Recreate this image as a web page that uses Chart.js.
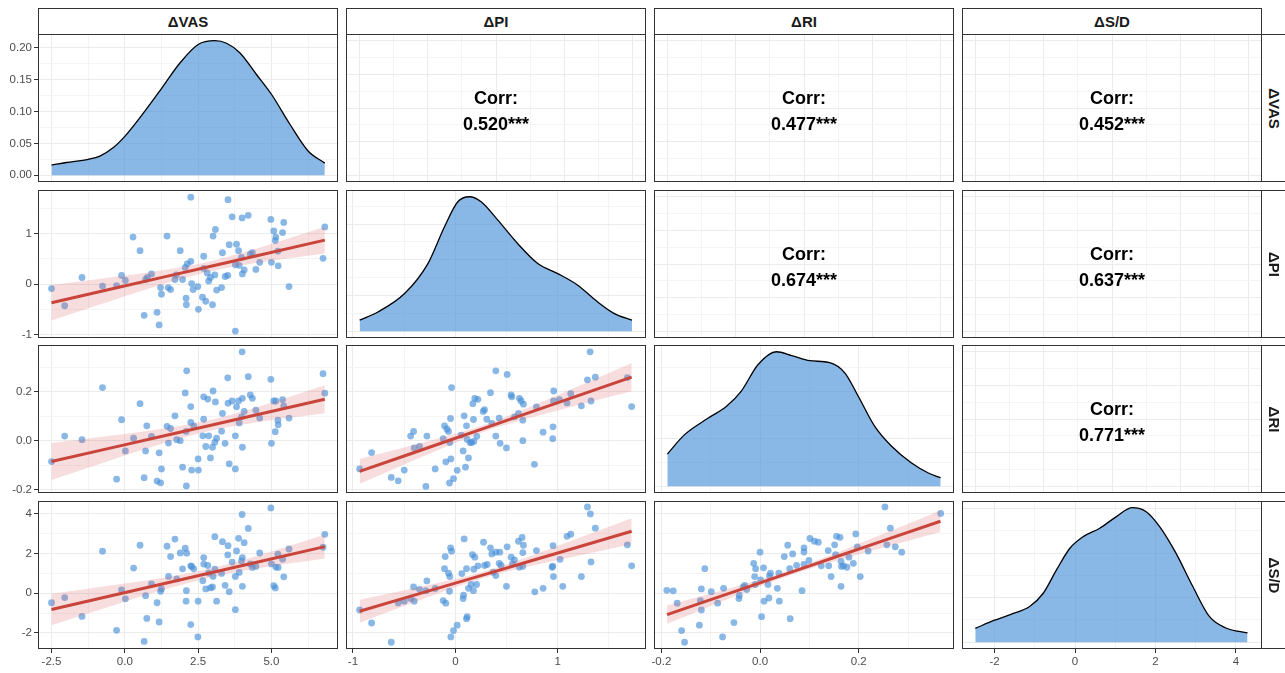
<!DOCTYPE html>
<html>
<head>
<meta charset="utf-8">
<script src="https://cdn.jsdelivr.net/npm/chart.js@4.4.1/dist/chart.umd.min.js"></script>
<style>
  body { margin: 0; background: #fff; width: 1285px; height: 673px; overflow: hidden; position: relative;
         font-family: "Liberation Sans", Arial, sans-serif; }
  canvas { position: absolute; }
  .strip { position: absolute; box-sizing: border-box; border: 1px solid #333; background: #fff;
           font-weight: bold; font-size: 15px; color: #1a1a1a;
           display: flex; align-items: center; justify-content: center; white-space: nowrap; }
  .strip.side span { transform: rotate(90deg); display: inline-block; }
  .corr { position: absolute; width: 300px; text-align: center; font-weight: bold; font-size: 18px;
          line-height: 26px; color: #000; }
</style>
</head>
<body>
<script>
// variables of the pairs plot
var varNames = ['ΔVAS', 'ΔPI', 'ΔRI', 'ΔS/D'];
var axisMin = [-2.96, -1.068, -0.215, -2.81];
var axisMax = [7.27, 1.862, 0.393, 4.65];
var majorTicks = [[-2.5, 0, 2.5, 5], [-1, 0, 1], [-0.2, 0, 0.2], [-2, 0, 2, 4]];
var majorLabels = [['-2.5', '0.0', '2.5', '5.0'], ['-1', '0', '1'], ['-0.2', '0.0', '0.2'], ['-2', '0', '2', '4']];
var minorTicks = [[-1.25, 1.25, 3.75, 6.25], [-0.5, 0.5, 1.5], [-0.1, 0.1, 0.3], [-1, 1, 3]];

// density panels (own y scale each)
var densMin = [-0.0106, -0.0377, -0.142, -0.0151];
var densMax = [0.2215, 0.7907, 2.982, 0.317];
var densMajor = [[0, 0.05, 0.1, 0.15, 0.2], [0, 0.2, 0.4, 0.6], [0, 1, 2], [0, 0.1, 0.2, 0.3]];
var densMinor = [[0.025, 0.075, 0.125, 0.175], [0.1, 0.3, 0.5, 0.7], [0.5, 1.5, 2.5], [0.05, 0.15, 0.25]];
var densLabels = ['0.00', '0.05', '0.10', '0.15', '0.20'];

var densVasX = [-2.5, -1.99, -1.25, -0.85, -0.4, 0, 0.51, 1.25, 1.88, 2.5, 3.07, 3.47, 3.92, 4.49, 5.0, 5.63, 6.25, 6.82];
var densVasY = [0.016, 0.020, 0.025, 0.030, 0.043, 0.061, 0.090, 0.136, 0.176, 0.205, 0.211, 0.207, 0.192, 0.158, 0.127, 0.080, 0.038, 0.019];
var densPiX = [-0.935, -0.756, -0.496, -0.268, -0.106, 0.024, 0.138, 0.252, 0.415, 0.61, 0.805, 1.0, 1.195, 1.39, 1.553, 1.725];
var densPiY = [0.062, 0.108, 0.211, 0.379, 0.585, 0.725, 0.753, 0.725, 0.622, 0.49, 0.379, 0.323, 0.258, 0.164, 0.099, 0.062];
var densRiX = [-0.188, -0.153, -0.105, -0.068, -0.038, -0.004, 0.033, 0.064, 0.101, 0.141, 0.172, 0.199, 0.232, 0.266, 0.307, 0.341, 0.366];
var densRiY = [0.68, 1.09, 1.44, 1.69, 2.01, 2.57, 2.84, 2.76, 2.65, 2.61, 2.39, 1.90, 1.27, 0.85, 0.49, 0.28, 0.18];
var densSdX = [-2.48, -2.02, -1.61, -1.12, -0.79, -0.457, -0.127, 0.203, 0.615, 1.03, 1.424, 1.77, 2.10, 2.51, 2.93, 3.34, 3.75, 4.29];
var densSdY = [0.031, 0.049, 0.062, 0.081, 0.110, 0.163, 0.211, 0.237, 0.256, 0.282, 0.302, 0.293, 0.260, 0.200, 0.125, 0.058, 0.032, 0.021];

// scatter points [x, y]
var ptsVasPi = [[-2.5,-0.09],[-2.05,-0.43],[-1.46,0.13],[-0.76,-0.04],[-0.28,-0.03],[-0.11,0.17],[0.02,0.07],[0.28,0.93],[0.52,0.66],[0.66,-0.62],[0.71,0.09],[0.77,0.13],[0.91,0.2],[1.1,-0.56],[1.17,-0.81],[1.22,-0.07],[1.25,-0.2],[1.44,0.95],[1.48,-0.07],[1.56,-0.11],[1.71,0.09],[1.76,0.18],[1.89,0.66],[1.97,0.09],[2.06,0.33],[2.09,-0.28],[2.1,-0.41],[2.13,0.4],[2.25,0.45],[2.25,1.72],[2.28,0.01],[2.33,-0.11],[2.49,-0.05],[2.51,-0.5],[2.65,-0.26],[2.69,0.55],[2.69,0.31],[2.76,-0.34],[2.81,0.22],[2.86,0.06],[2.92,0.13],[2.99,-0.41],[3.01,0.95],[3.07,0.18],[3.09,1.08],[3.13,-0.12],[3.3,-0.07],[3.33,0.62],[3.42,0.15],[3.51,0.17],[3.52,1.67],[3.56,0.78],[3.66,1.33],[3.77,0.38],[3.77,-0.93],[3.81,0.79],[3.88,0.66],[3.9,0.37],[3.98,0.53],[4.0,1.31],[4.01,0.2],[4.07,0.28],[4.21,1.36],[4.28,0.59],[4.35,0.62],[4.47,0.29],[4.6,0.43],[4.98,1.28],[5.0,0.43],[5.08,1.05],[5.13,0.86],[5.15,0.93],[5.22,0.65],[5.23,0.36],[5.38,1.02],[5.42,1.22],[5.6,-0.05],[6.76,0.51],[6.82,1.13]];
var ptsVasRi = [[-2.5,-0.086],[-2.05,0.019],[-1.46,0.004],[-0.76,0.218],[-0.28,-0.158],[-0.11,0.086],[0.02,-0.042],[0.3,0.01],[0.52,0.152],[0.66,-0.152],[0.71,-0.042],[0.75,0.061],[0.91,0.018],[1.1,-0.166],[1.17,-0.05],[1.22,-0.173],[1.25,-0.116],[1.44,0.059],[1.49,-0.01],[1.56,0.05],[1.71,0.102],[1.77,0.004],[1.89,0.0],[1.97,-0.109],[2.06,0.196],[2.09,0.038],[2.1,-0.186],[2.11,0.287],[2.25,0.14],[2.25,0.075],[2.28,-0.121],[2.35,0.061],[2.51,-0.121],[2.5,-0.075],[2.66,0.02],[2.69,0.18],[2.69,0.088],[2.76,-0.024],[2.83,0.171],[2.86,0.02],[2.92,-0.071],[2.99,-0.027],[3.01,0.204],[3.07,-0.007],[3.09,0.159],[3.13,0.01],[3.3,0.039],[3.33,0.112],[3.42,-0.011],[3.51,0.258],[3.52,0.154],[3.56,-0.095],[3.66,0.163],[3.77,-0.116],[3.77,0.02],[3.81,0.139],[3.88,0.163],[3.9,0.073],[3.98,0.098],[4.0,0.365],[4.01,0.174],[4.01,-0.027],[4.07,0.12],[4.21,0.263],[4.28,0.188],[4.35,0.174],[4.47,0.125],[4.6,0.093],[4.98,0.252],[5.0,-0.011],[5.08,0.163],[5.13,0.037],[5.15,0.163],[5.22,0.084],[5.23,0.065],[5.38,0.169],[5.42,0.143],[5.6,0.093],[6.76,0.275],[6.82,0.195]];
var ptsVasSd = [[-2.5,-0.48],[-2.05,-0.22],[-1.46,-1.17],[-0.76,2.12],[-0.28,-1.87],[-0.11,0.17],[0.02,-0.28],[0.3,1.27],[0.52,2.42],[0.66,-2.43],[0.71,-0.12],[0.75,-1.27],[0.91,0.47],[1.1,-0.48],[1.17,-1.45],[1.22,0.1],[1.25,0.22],[1.44,2.37],[1.49,0.85],[1.56,1.85],[1.71,2.73],[1.77,0.72],[1.89,2.03],[1.97,1.23],[2.06,2.27],[2.09,-0.4],[2.1,0.13],[2.11,2.02],[2.25,1.38],[2.25,-1.58],[2.28,1.35],[2.35,1.23],[2.5,-0.4],[2.49,-2.2],[2.66,0.63],[2.69,1.8],[2.69,1.47],[2.76,0.22],[2.83,1.4],[2.86,1.02],[2.92,0.27],[2.99,0.32],[3.01,0.85],[3.07,2.85],[3.07,1.22],[3.13,-0.4],[3.3,1.0],[3.33,2.6],[3.42,0.4],[3.51,1.93],[3.52,2.4],[3.56,0.08],[3.66,1.57],[3.77,-0.83],[3.77,0.85],[3.81,2.13],[3.88,2.77],[3.9,1.05],[3.98,1.63],[4.0,3.97],[4.01,1.8],[4.01,0.35],[4.07,2.55],[4.21,3.27],[4.28,1.48],[4.35,1.3],[4.47,1.35],[4.6,2.03],[4.98,4.3],[5.0,1.48],[5.08,0.38],[5.13,0.27],[5.15,1.32],[5.22,1.97],[5.23,1.3],[5.38,1.72],[5.42,0.83],[5.6,2.23],[6.76,2.32],[6.82,2.97]];
var ptsPiRi = [[-0.935,-0.116],[-0.818,-0.049],[-0.626,-0.151],[-0.558,-0.165],[-0.499,-0.121],[-0.437,0.019],[-0.408,0.038],[-0.402,-0.03],[-0.35,-0.024],[-0.288,-0.188],[-0.278,0.019],[-0.197,-0.116],[-0.119,0.008],[-0.106,0.061],[-0.093,-0.087],[-0.083,0.048],[-0.067,0.038],[-0.057,-0.174],[-0.054,-0.008],[-0.047,0.091],[-0.044,-0.075],[-0.037,0.218],[-0.018,-0.156],[0.018,-0.122],[0.057,0.023],[0.076,-0.042],[0.086,0.102],[0.099,-0.109],[0.109,0.061],[0.115,0.005],[0.128,-0.071],[0.145,-0.008],[0.158,-0.008],[0.171,0.152],[0.177,0.087],[0.18,-0.003],[0.19,0.174],[0.21,0.018],[0.22,0.17],[0.272,0.12],[0.285,0.127],[0.307,0.088],[0.343,0.197],[0.356,0.071],[0.395,0.287],[0.395,0.019],[0.428,0.093],[0.437,-0.011],[0.499,-0.03],[0.506,0.272],[0.545,0.188],[0.551,0.18],[0.577,0.098],[0.616,0.112],[0.626,0.174],[0.642,0.163],[0.659,0.084],[0.659,0.0],[0.665,0.15],[0.772,-0.097],[0.792,0.139],[0.857,0.035],[0.951,0.008],[0.954,0.057],[0.958,0.163],[0.961,0.204],[1.016,0.169],[1.091,0.155],[1.127,0.193],[1.231,0.143],[1.29,0.25],[1.316,0.365],[1.325,0.163],[1.367,0.261],[1.68,0.259],[1.722,0.14]];
var ptsPiSd = [[-0.935,-0.84],[-0.818,-1.5],[-0.626,-2.47],[-0.558,-0.49],[-0.499,-0.4],[-0.437,-0.27],[-0.408,0.32],[-0.402,-0.4],[-0.35,0.2],[-0.288,0.13],[-0.278,0.62],[-0.197,0.24],[-0.119,-0.37],[-0.106,1.24],[-0.093,-0.5],[-0.099,1.85],[-0.067,1.01],[-0.057,0.1],[-0.054,0.84],[-0.047,2.29],[-0.044,-2.2],[-0.037,2.12],[-0.018,-1.88],[0.018,-1.61],[0.063,0.99],[0.076,-0.27],[0.086,2.74],[0.08,-0.1],[0.109,1.24],[0.109,-1.28],[0.115,-1.18],[0.128,0.25],[0.154,0.44],[0.167,1.95],[0.177,0.13],[0.18,1.21],[0.19,1.82],[0.207,0.44],[0.22,1.38],[0.275,2.57],[0.285,1.4],[0.311,1.45],[0.343,2.29],[0.356,1.98],[0.369,1.06],[0.395,0.89],[0.395,2.07],[0.434,2.07],[0.428,1.51],[0.447,1.4],[0.499,0.35],[0.506,2.34],[0.545,1.82],[0.558,1.48],[0.577,1.68],[0.616,2.62],[0.626,1.31],[0.652,2.81],[0.659,2.05],[0.665,2.42],[0.659,1.36],[0.776,0.07],[0.792,2.15],[0.857,0.25],[0.945,1.31],[0.954,2.4],[0.958,0.84],[0.951,1.36],[1.023,1.71],[1.049,0.35],[1.091,2.87],[1.127,2.98],[1.231,0.84],[1.29,4.35],[1.319,4.0],[1.325,1.58],[1.367,3.28],[1.68,2.44],[1.722,1.38]];
var ptsRiSd = [[-0.189,0.15],[-0.176,0.12],[-0.168,-0.5],[-0.159,-1.88],[-0.153,-2.47],[-0.123,-1.61],[-0.121,-0.37],[-0.119,0.22],[-0.119,-0.84],[-0.112,1.24],[-0.099,0.08],[-0.086,-0.5],[-0.076,-2.2],[-0.074,0.25],[-0.053,-1.48],[-0.043,-0.27],[-0.042,-0.1],[-0.034,0.32],[-0.031,0.39],[-0.027,0.19],[-0.013,1.51],[-0.011,0.84],[-0.009,1.24],[-0.01,0.44],[0.0,2.07],[0.001,0.67],[0.003,-1.18],[0.007,1.28],[0.008,-0.4],[0.016,0.44],[0.018,-0.24],[0.019,0.87],[0.021,1.01],[0.035,0.25],[0.038,1.01],[0.039,-0.4],[0.049,1.85],[0.056,2.42],[0.06,1.24],[0.061,-1.28],[0.066,1.98],[0.074,1.41],[0.085,0.13],[0.089,2.29],[0.089,2.08],[0.089,1.45],[0.099,1.65],[0.101,2.76],[0.11,2.62],[0.118,2.57],[0.124,1.38],[0.138,2.15],[0.139,1.38],[0.144,0.84],[0.151,2.44],[0.153,1.95],[0.155,2.87],[0.162,2.82],[0.164,0.35],[0.164,1.61],[0.165,1.35],[0.169,1.38],[0.176,1.31],[0.18,1.82],[0.189,1.51],[0.194,2.99],[0.197,2.34],[0.203,0.84],[0.219,2.13],[0.253,4.35],[0.257,2.44],[0.264,3.28],[0.274,2.34],[0.287,2.07],[0.366,4.02]];

// fitted lines with confidence band
var fitVasX = [-2.5, -0.5, 1.5, 2.9, 4.5, 6.82];
var fitVasPi = [-0.37, -0.104, 0.162, 0.348, 0.561, 0.87];
var loVasPi = [-0.72, -0.338, 0.03, 0.248, 0.42, 0.607];
var hiVasPi = [-0.02, 0.13, 0.295, 0.448, 0.702, 1.133];
var fitVasRi = [-0.0857, -0.0308, 0.0241, 0.0625, 0.1064, 0.170];
var loVasRi = [-0.162, -0.0816, -0.0049, 0.0405, 0.0756, 0.1128];
var hiVasRi = [-0.0097, 0.02, 0.0531, 0.0845, 0.1372, 0.2272];
var fitVasSd = [-0.817, -0.137, 0.542, 1.018, 1.562, 2.35];
var loVasSd = [-1.607, -0.663, 0.247, 0.798, 1.248, 1.757];
var hiVasSd = [-0.027, 0.389, 0.837, 1.238, 1.877, 2.943];
var fitPiX = [-0.935, -0.5, 0, 0.3, 0.7, 1.2, 1.722];
var fitPiRi = [-0.1265, -0.0631, 0.0098, 0.0535, 0.1119, 0.1848, 0.261];
var loPiRi = [-0.1775, -0.0978, -0.0086, 0.0395, 0.0907, 0.1464, 0.203];
var hiPiRi = [-0.0755, -0.0284, 0.0282, 0.0675, 0.1331, 0.2232, 0.319];
var fitPiSd = [-0.908, -0.248, 0.511, 0.966, 1.574, 2.333, 3.126];
var loPiSd = [-1.488, -0.643, 0.301, 0.806, 1.333, 1.896, 2.466];
var hiPiSd = [-0.328, 0.147, 0.721, 1.126, 1.815, 2.77, 3.786];
var fitRiX = [-0.1885, -0.1, 0, 0.065, 0.15, 0.25, 0.3655];
var fitRiSd = [-1.076, -0.324, 0.525, 1.077, 1.8, 2.649, 3.63];
var loRiSd = [-1.536, -0.639, 0.353, 0.947, 1.603, 2.302, 3.091];
var hiRiSd = [-0.616, -0.009, 0.697, 1.207, 1.997, 2.996, 4.169];

// upper panels: correlation text
var corrValues = {'0,1': '0.520***', '0,2': '0.477***', '0,3': '0.452***',
                  '1,2': '0.674***', '1,3': '0.637***', '2,3': '0.771***'};

var densities = [[densVasX, densVasY], [densPiX, densPiY], [densRiX, densRiY], [densSdX, densSdY]];
var lower = {
  '1,0': [ptsVasPi, fitVasX, fitVasPi, loVasPi, hiVasPi],
  '2,0': [ptsVasRi, fitVasX, fitVasRi, loVasRi, hiVasRi],
  '3,0': [ptsVasSd, fitVasX, fitVasSd, loVasSd, hiVasSd],
  '2,1': [ptsPiRi, fitPiX, fitPiRi, loPiRi, hiPiRi],
  '3,1': [ptsPiSd, fitPiX, fitPiSd, loPiSd, hiPiSd],
  '3,2': [ptsRiSd, fitRiX, fitRiSd, loRiSd, hiRiSd]
};

var colLeft = [38, 346, 654, 962];
var rowTop = [34, 190, 345, 501];
var panelW = 300, panelH = 148;
var blue = 'rgba(74,144,217,0.65)';

Chart.defaults.font.family = '"Liberation Sans", Arial, sans-serif';

function toXY(xs, ys) {
  return xs.map(function (x, i) { return {x: x, y: ys[i]}; });
}

function makeScale(axis, min, max, majors, minors, labels, showLabels, size) {
  var all = majors.concat(minors).filter(function (v) { return v >= min && v <= max; })
    .sort(function (a, b) { return a - b; });
  function majorIndex(v) {
    for (var i = 0; i < majors.length; i++) if (Math.abs(majors[i] - v) < 1e-9) return i;
    return -1;
  }
  return {
    type: 'linear', min: min, max: max,
    afterBuildTicks: function (s) { s.ticks = all.map(function (v) { return {value: v}; }); },
    afterFit: function (s) { if (axis === 'x') s.height = size; else s.width = size; },
    border: {display: false},
    grid: {
      color: function (c) { return majorIndex(c.tick.value) >= 0 ? '#ebebeb' : '#f4f4f4'; },
      lineWidth: 1,
      drawTicks: showLabels,
      tickLength: 4,
      tickWidth: 1,
      tickColor: function (c) { return majorIndex(c.tick.value) >= 0 ? '#333333' : 'rgba(0,0,0,0)'; }
    },
    ticks: {
      display: showLabels, autoSkip: false, maxRotation: 0, minRotation: 0, padding: 2,
      color: '#4d4d4d', font: {size: 11.5},
      callback: function (v) { var i = majorIndex(v); return i >= 0 && labels ? labels[i] : ''; }
    }
  };
}

var panelBorder = {
  id: 'panelBorder',
  afterDraw: function (chart) {
    var a = chart.chartArea, ctx = chart.ctx;
    ctx.save();
    ctx.strokeStyle = '#333333';
    ctx.lineWidth = 1;
    ctx.strokeRect(Math.round(a.left) + 0.5, Math.round(a.top) + 0.5,
                   Math.round(a.right - a.left) - 1, Math.round(a.bottom - a.top) - 1);
    ctx.restore();
  }
};

function drawPanel(r, c) {
  var isLeft = c === 0, isBottom = r === 3;
  var padL = isLeft ? 38 : 10, padR = 10, padT = 10, padB = isBottom ? 24 : 10;
  var w = panelW + padL + padR, h = panelH + padT + padB;
  var cv = document.createElement('canvas');
  cv.width = w; cv.height = h;
  cv.style.left = (colLeft[c] - padL) + 'px';
  cv.style.top = (rowTop[r] - padT) + 'px';
  cv.style.width = w + 'px'; cv.style.height = h + 'px';
  document.body.appendChild(cv);

  var xs, ys, datasets = [];
  if (r < c) {
    // upper panel: plain unit grid, text on top
    xs = makeScale('x', -0.05, 1.05, [0, 0.25, 0.5, 0.75, 1], [0.125, 0.375, 0.625, 0.875], null, false, 0);
    ys = makeScale('y', -0.05, 1.05, [0, 0.25, 0.5, 0.75, 1], [0.125, 0.375, 0.625, 0.875], null, false, 0);
  } else {
    xs = makeScale('x', axisMin[c], axisMax[c], majorTicks[c], minorTicks[c], majorLabels[c], isBottom, isBottom ? 24 : 0);
    if (r === c) {
      ys = makeScale('y', densMin[r], densMax[r], densMajor[r], densMinor[r], r === 0 ? densLabels : null, isLeft, isLeft ? 38 : 0);
      datasets.push({
        data: toXY(densities[r][0], densities[r][1]),
        borderColor: '#000000', borderWidth: 1.3, backgroundColor: blue,
        fill: 'origin', pointRadius: 0, cubicInterpolationMode: 'monotone'
      });
    } else {
      ys = makeScale('y', axisMin[r], axisMax[r], majorTicks[r], minorTicks[r], majorLabels[r], isLeft, isLeft ? 38 : 0);
      var d = lower[r + ',' + c];
      datasets.push({
        data: toXY(d[1], d[2]), borderColor: '#c9453b', borderWidth: 3, pointRadius: 0, fill: false, order: 0
      });
      datasets.push({
        data: toXY(d[1], d[4]), borderColor: 'rgba(0,0,0,0)', borderWidth: 1, pointRadius: 0,
        fill: '+1', backgroundColor: 'rgba(220,100,100,0.22)', cubicInterpolationMode: 'monotone', order: 1
      });
      datasets.push({
        data: toXY(d[1], d[3]), borderColor: 'rgba(0,0,0,0)', borderWidth: 1, pointRadius: 0,
        fill: false, cubicInterpolationMode: 'monotone', order: 2
      });
      datasets.push({
        data: d[0].map(function (p) { return {x: p[0], y: p[1]}; }),
        showLine: false, pointRadius: 3.4, pointBackgroundColor: blue, pointBorderWidth: 0,
        pointBorderColor: 'rgba(0,0,0,0)', order: 3
      });
    }
  }

  new Chart(cv, {
    type: 'line',
    data: {datasets: datasets},
    options: {
      responsive: false, animation: false, devicePixelRatio: 1, events: [],
      layout: {padding: {left: isLeft ? 0 : 10, right: 10, top: 10, bottom: isBottom ? 0 : 10}},
      plugins: {legend: {display: false}, tooltip: {enabled: false}},
      scales: {x: xs, y: ys}
    },
    plugins: [panelBorder]
  });

  if (r < c) {
    var t = document.createElement('div');
    t.className = 'corr';
    t.style.left = colLeft[c] + 'px';
    t.style.top = (rowTop[r] + 51) + 'px';
    t.innerHTML = '<div>Corr:</div><div>' + corrValues[r + ',' + c] + '</div>';
    document.body.appendChild(t);
  }
}

function drawStrips() {
  for (var i = 0; i < 4; i++) {
    var stripTop = document.createElement('div');
    stripTop.className = 'strip';
    stripTop.style.left = colLeft[i] + 'px';
    stripTop.style.top = '8px';
    stripTop.style.width = panelW + 'px';
    stripTop.style.height = '27px';
    stripTop.textContent = varNames[i];
    document.body.appendChild(stripTop);

    var stripSide = document.createElement('div');
    stripSide.className = 'strip side';
    stripSide.style.left = (colLeft[3] + panelW - 1) + 'px';
    stripSide.style.top = rowTop[i] + 'px';
    stripSide.style.width = '27px';
    stripSide.style.height = panelH + 'px';
    stripSide.innerHTML = '<span>' + varNames[i] + '</span>';
    document.body.appendChild(stripSide);
  }
}

for (var r = 0; r < 4; r++) {
  for (var c = 0; c < 4; c++) drawPanel(r, c);
}
drawStrips();
</script>
</body>
</html>
